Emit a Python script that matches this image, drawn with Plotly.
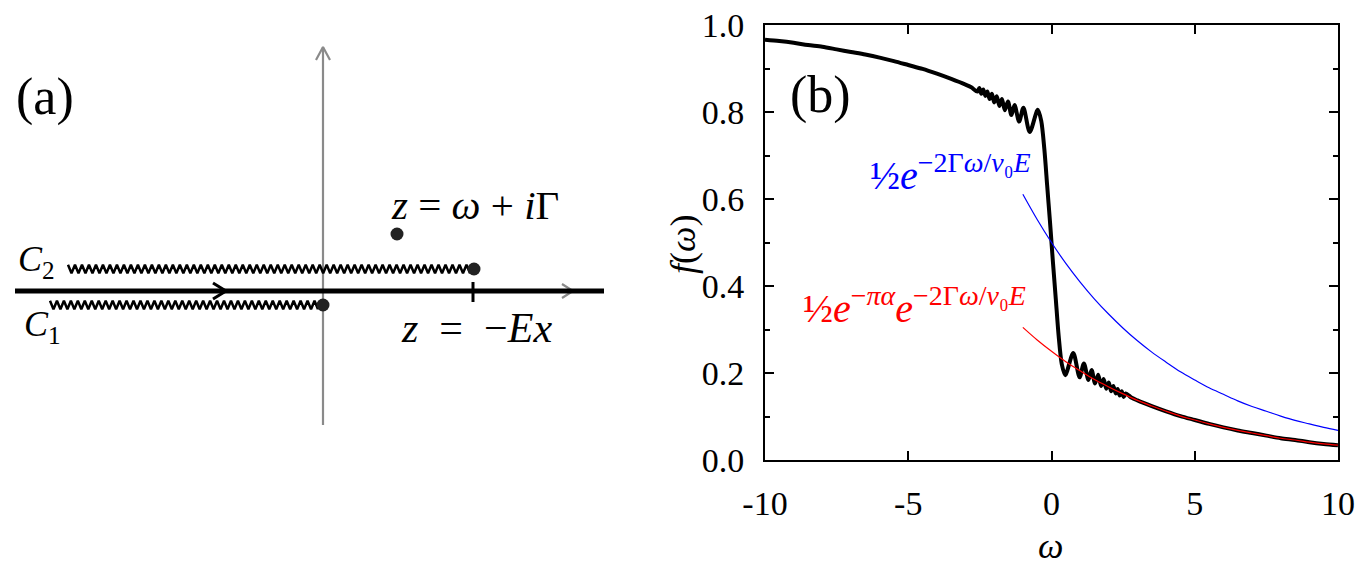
import plotly.graph_objects as go

# ---------------- panel (b) data ----------------
omega_f = [-10.0, -9.5, -9.0, -8.5, -8.0, -7.5, -7.0, -6.5, -6.0, -5.5, -5.0, -4.5, -4.0, -3.5,
           -3.0, -2.8, -2.59, -2.52, -2.45, -2.38, -2.31, -2.24, -2.16, -2.08, -2.00, -1.91,
           -1.82, -1.73, -1.63, -1.52, -1.40, -1.29, -1.13, -0.98, -0.76, -0.48, -0.36, -0.25,
           -0.15, -0.05, 0.0, 0.05, 0.15, 0.25, 0.36, 0.48, 0.76, 0.98, 1.13, 1.29, 1.40, 1.52,
           1.63, 1.73, 1.82, 1.91, 2.00, 2.08, 2.16, 2.24, 2.31, 2.38, 2.45, 2.52, 2.59, 2.8,
           3.0, 3.5, 4.0, 4.5, 5.0, 5.5, 6.0, 6.5, 7.0, 7.5, 8.0, 8.5, 9.0, 9.5, 10.0]
f_vals = [0.966, 0.963, 0.959, 0.954, 0.950, 0.944, 0.938, 0.932, 0.925, 0.917, 0.908, 0.899, 0.888, 0.876,
          0.863, 0.857, 0.847, 0.855, 0.842, 0.852, 0.837, 0.847, 0.830, 0.842, 0.822, 0.836,
          0.814, 0.830, 0.804, 0.824, 0.793, 0.816, 0.778, 0.810, 0.754, 0.805, 0.780, 0.715,
          0.630, 0.545, 0.500, 0.455, 0.370, 0.285, 0.220, 0.195, 0.246, 0.190, 0.222, 0.184, 0.207, 0.176,
          0.196, 0.170, 0.186, 0.164, 0.178, 0.158, 0.170, 0.153, 0.163, 0.148, 0.158, 0.145, 0.153, 0.143,
          0.137, 0.124, 0.112, 0.101, 0.092, 0.083, 0.075, 0.068, 0.062, 0.056, 0.050, 0.046, 0.041, 0.037, 0.034]

omega_exp = [-1.0, -0.5, 0.0, 0.5, 1.0, 1.5, 2.0, 2.5, 3.0, 3.5, 4.0, 4.5, 5.0, 5.5,
             6.0, 6.5, 7.0, 7.5, 8.0, 8.5, 9.0, 9.5, 10.0]
blue_vals = [0.611, 0.553, 0.500, 0.452, 0.409, 0.370, 0.335, 0.303, 0.274, 0.248, 0.225, 0.203,
             0.184, 0.166, 0.151, 0.136, 0.123, 0.112, 0.101, 0.091, 0.083, 0.075, 0.068]
red_vals = [0.305, 0.276, 0.250, 0.226, 0.205, 0.185, 0.168, 0.152, 0.137, 0.124, 0.112, 0.101,
            0.092, 0.083, 0.075, 0.068, 0.062, 0.056, 0.050, 0.046, 0.041, 0.037, 0.034]

x_tick_vals = [-10, -5, 0, 5, 10]
x_tick_text = ["-10", "-5", "0", "5", "10"]
y_tick_vals = [0.0, 0.2, 0.4, 0.6, 0.8, 1.0]
y_tick_text = ["0.0", "0.2", "0.4", "0.6", "0.8", "1.0"]

# ---------------- panel (a) sketch geometry (sketch coordinates) ----------------
v_axis_x = [323, 323]
v_axis_y = [425, 47]
h_axis_x = [15, 604]
h_axis_y = [291, 291]
upper_cut = [68, 470, 269]     # x start, x end, y
lower_cut = [50, 318, 305]
dots_x = [474, 323, 397]
dots_y = [269, 305, 234]
tick_x = [473, 473]
tick_y = [282, 302]

W, H = 1367, 579
OFF = 8  # page body margin: the figure is drawn 8 px right and down
SERIF = "Liberation Serif, Times New Roman, Times, DejaVu Serif, serif"


def px_x(p):
    return (p - OFF) / W


def px_y(p):
    return 1 - (p - OFF) / H


def zigzag(x0, x1, y, period=7.0, amp=4.2):
    n = int(round((x1 - x0) / (period / 2)))
    xs = [x0 + i * (x1 - x0) / n for i in range(n + 1)]
    ys = [y + (amp if i % 2 else -amp) for i in range(n + 1)]
    return xs, ys


def chevron(tx, ty, direction, size, spread):
    if direction == "right":
        return [tx - size, tx, tx - size], [ty - spread, ty, ty + spread]
    return [tx - spread, tx, tx + spread], [ty + size, ty, ty + size]


fig = go.Figure()

# ----- panel (a) -----
A = dict(xaxis="x2", yaxis="y2", showlegend=False, hoverinfo="skip")
fig.add_trace(go.Scatter(x=v_axis_x, y=v_axis_y, mode="lines",
                         line=dict(color="#8a8a8a", width=2.2), **A))
cx, cy = chevron(v_axis_x[1], v_axis_y[1], "up", 13, 7)
fig.add_trace(go.Scatter(x=cx, y=cy, mode="lines", line=dict(color="#8a8a8a", width=2.2), **A))
fig.add_trace(go.Scatter(x=[300, 572], y=h_axis_y, mode="lines",
                         line=dict(color="#8a8a8a", width=2.2), **A))
cx, cy = chevron(573, 291, "right", 11, 7)
fig.add_trace(go.Scatter(x=cx, y=cy, mode="lines", line=dict(color="#8a8a8a", width=2.2), **A))
fig.add_trace(go.Scatter(x=h_axis_x, y=h_axis_y, mode="lines",
                         line=dict(color="black", width=5), **A))
cx, cy = chevron(226, 291, "right", 13, 8)
fig.add_trace(go.Scatter(x=cx, y=cy, mode="lines", line=dict(color="black", width=3), **A))
fig.add_trace(go.Scatter(x=tick_x, y=tick_y, mode="lines", line=dict(color="black", width=3), **A))
zx, zy = zigzag(*upper_cut)
fig.add_trace(go.Scatter(x=zx, y=zy, mode="lines", line=dict(color="black", width=2.5), **A))
zx, zy = zigzag(*lower_cut)
fig.add_trace(go.Scatter(x=zx, y=zy, mode="lines", line=dict(color="black", width=2.5), **A))
fig.add_trace(go.Scatter(x=dots_x, y=dots_y, mode="markers",
                         marker=dict(color="#222222", size=13), **A))

# ----- panel (b) -----
fig.add_trace(go.Scatter(x=omega_f, y=f_vals, mode="lines", line=dict(color="black", width=4,
                         shape="spline", smoothing=0.8), showlegend=False))
fig.add_trace(go.Scatter(x=omega_exp, y=red_vals, mode="lines", line=dict(color="#ff0000", width=1.2,
                         shape="spline"), showlegend=False))
fig.add_trace(go.Scatter(x=omega_exp, y=blue_vals, mode="lines", line=dict(color="#0000ff", width=1.2,
                         shape="spline"), showlegend=False))

axis_common = dict(showgrid=False, zeroline=False, showline=True, linecolor="black", linewidth=2,
                   mirror="ticks", ticks="inside", tickcolor="black", tickwidth=2,
                   tickfont=dict(family=SERIF, size=34, color="black"), automargin=False,
                   ticklabeloverflow="allow")
fig.update_layout(
    width=W, height=H, autosize=False,
    margin=dict(l=0, r=0, t=0, b=0, pad=0, autoexpand=False),
    paper_bgcolor="white", plot_bgcolor="rgba(0,0,0,0)",
    xaxis=dict(domain=[px_x(765), px_x(1338)], range=[-10, 10], tickvals=x_tick_vals,
               ticktext=x_tick_text, ticklen=9, ticklabelstandoff=12, **axis_common),
    yaxis=dict(domain=[px_y(460), px_y(25)], range=[0, 1], tickvals=y_tick_vals,
               ticktext=y_tick_text, ticklen=9, ticklabelstandoff=12,
               minor=dict(dtick=0.1, ticklen=5, ticks="inside", tickcolor="black", tickwidth=2),
               **axis_common),
    xaxis2=dict(domain=[0, 640 / W], range=[OFF, 640 + OFF], visible=False, automargin=False),
    yaxis2=dict(domain=[0, 1], range=[H + OFF, OFF], visible=False, automargin=False),
)


def ann(text, px, py, size, color="black", textangle=0):
    fig.add_annotation(text=text, x=px_x(px), y=px_y(py), xref="paper", yref="paper",
                       showarrow=False, xanchor="center", yanchor="middle", textangle=textangle,
                       font=dict(family=SERIF, size=size, color=color))


ann("(a)", 45, 97, 52)
ann("<i>C</i><sub>2</sub>", 36, 262, 36)
ann("<i>C</i><sub>1</sub>", 42, 326, 36)
ann("<i>z</i> = <i>ω</i> + <i>i</i>Γ", 475, 205, 41)
ann("<i>z</i>&nbsp;&nbsp;=&nbsp;&nbsp;−<i>Ex</i>", 476, 328, 42)
ann("(b)", 820, 95, 52)
ann("½<i>e</i><sup>−2Γ<i>ω</i>/<i>v</i>₀<i>E</i></sup>", 950, 172, 40, color="#0000ff")
ann("½<i>e</i><sup>−<i>πα</i></sup><i>e</i><sup>−2Γ<i>ω</i>/<i>v</i>₀<i>E</i></sup>", 914, 305, 40,
    color="#ff0000")
ann("<i>ω</i>", 1050, 546, 36)
ann("<i>f</i>(<i>ω</i>)", 683, 245, 36, textangle=-90)

fig.write_html("out.html")
